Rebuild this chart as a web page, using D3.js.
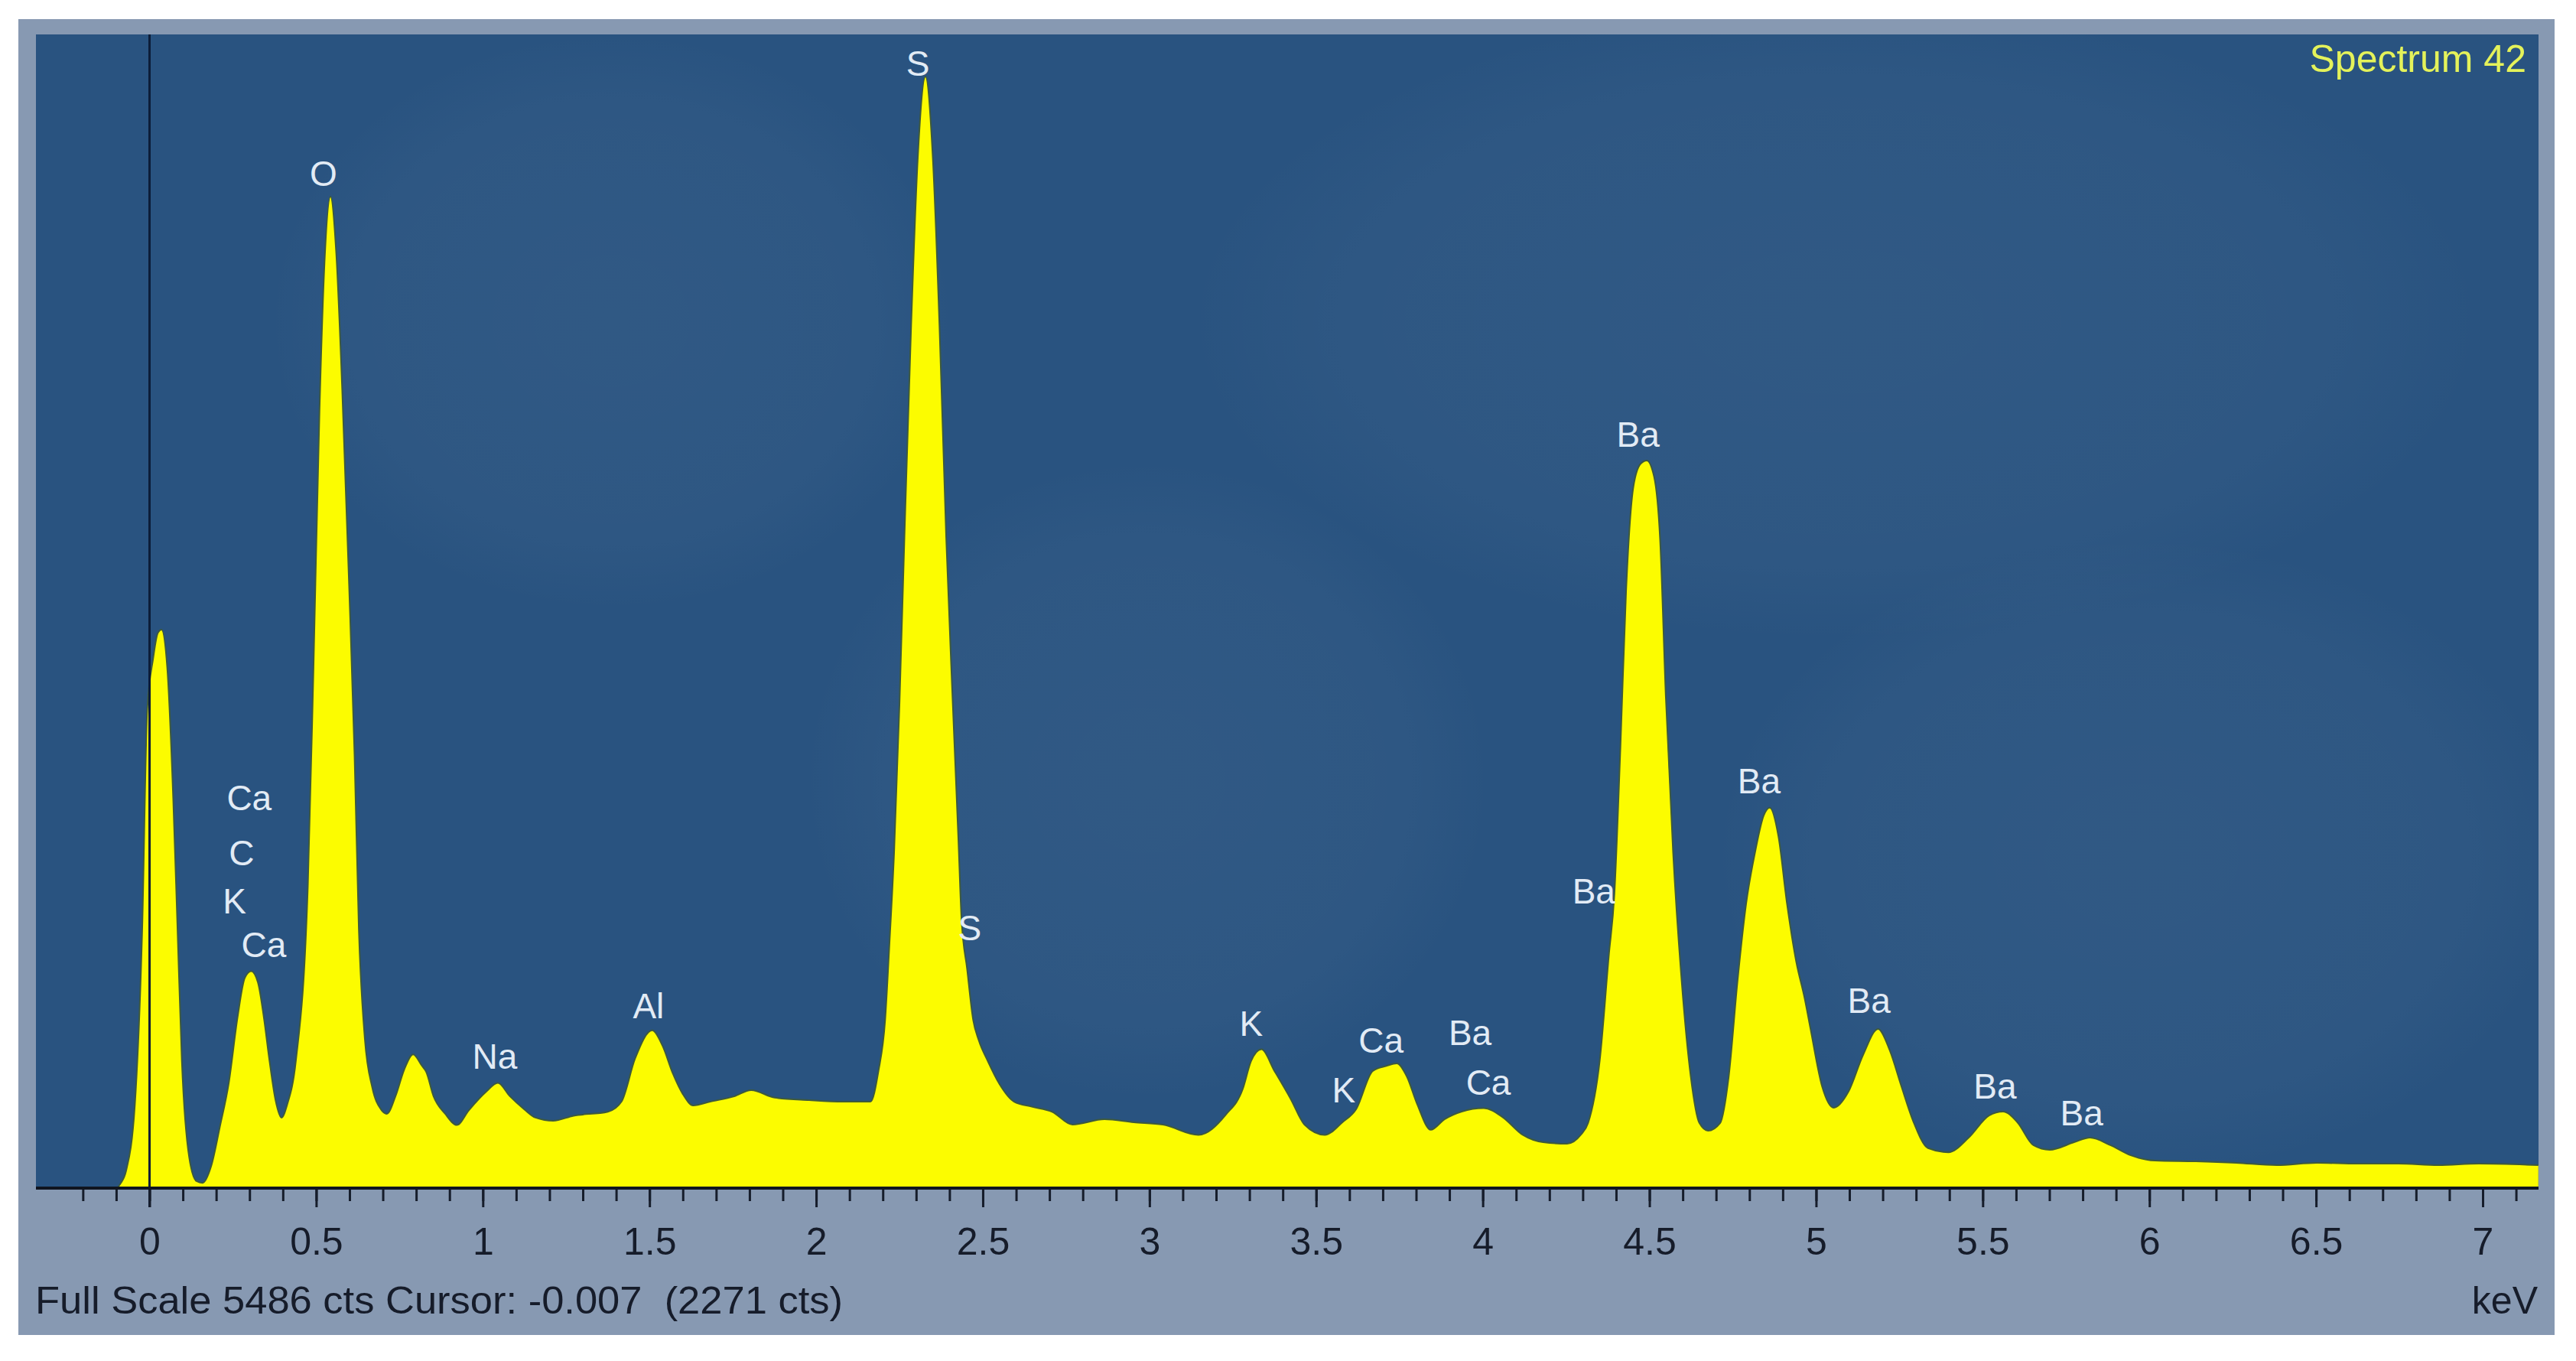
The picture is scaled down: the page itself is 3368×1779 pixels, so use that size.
<!DOCTYPE html>
<html>
<head>
<meta charset="utf-8">
<script src="https://cdn.jsdelivr.net/npm/d3@7"></script>
<style>
  html, body { margin: 0; padding: 0; background: #ffffff; }
  svg { display: block; }
  text { font-family: "Liberation Sans", Arial, sans-serif; }
</style>
</head>
<body>
<div id="chart"></div>
<script>
// EDS spectrum: energy in keV, counts
const energy = [
  -0.34, -0.10, -0.087, -0.070, -0.044, -0.022, -0.007, 0.011, 0.025, 0.036,
  0.053, 0.071, 0.084, 0.097, 0.119, 0.141, 0.159, 0.185, 0.211, 0.238,
  0.264, 0.286, 0.305, 0.325, 0.343, 0.360, 0.378, 0.396, 0.413, 0.439,
  0.475, 0.492, 0.510, 0.525, 0.543, 0.560, 0.578, 0.598, 0.615, 0.628,
  0.646, 0.668, 0.694, 0.712, 0.738, 0.764, 0.791, 0.817, 0.830, 0.852,
  0.887, 0.922, 0.958, 1.010, 1.045, 1.081, 1.124, 1.158, 1.211, 1.272,
  1.375, 1.416, 1.457, 1.508, 1.539, 1.570, 1.600, 1.631, 1.682, 1.754,
  1.805, 1.876, 1.979, 2.081, 2.163, 2.187, 2.207, 2.220, 2.234, 2.250,
  2.265, 2.285, 2.305, 2.328, 2.350, 2.370, 2.390, 2.410, 2.427, 2.436,
  2.453, 2.471, 2.488, 2.515, 2.550, 2.594, 2.647, 2.708, 2.769, 2.865,
  2.953, 3.040, 3.147, 3.229, 3.280, 3.305, 3.336, 3.375, 3.424, 3.465,
  3.526, 3.579, 3.620, 3.670, 3.711, 3.742, 3.772, 3.803, 3.844, 3.885,
  3.937, 4.003, 4.059, 4.120, 4.181, 4.253, 4.294, 4.316, 4.351, 4.378,
  4.395, 4.413, 4.430, 4.452, 4.474, 4.492, 4.514, 4.532, 4.549, 4.571,
  4.597, 4.624, 4.650, 4.676, 4.712, 4.738, 4.764, 4.790, 4.817, 4.843,
  4.861, 4.887, 4.913, 4.940, 4.966, 4.983, 5.018, 5.053, 5.097, 5.141,
  5.186, 5.221, 5.256, 5.291, 5.336, 5.397, 5.458, 5.519, 5.561, 5.604,
  5.652, 5.701, 5.774, 5.822, 5.883, 5.944, 6.017, 6.139, 6.260, 6.382,
  6.503, 6.624, 6.746, 6.867, 6.988, 7.167
];
const counts = [
  0, 0, 22, 84, 396, 1229, 2271, 2520, 2640, 2656,
  2478, 1854, 1229, 604, 146, 33, 25, 105, 291, 502,
  811, 1000, 1031, 979, 811, 604, 418, 335, 397, 604,
  1437, 2478, 3700, 4400, 4715, 4450, 3800, 2900, 2062, 1229,
  709, 480, 375, 353, 437, 563, 636, 582, 553, 437,
  353, 300, 370, 458, 500, 437, 375, 335, 320, 344,
  363, 411, 617, 750, 677, 545, 447, 393, 411, 436,
  466, 430, 418, 411, 411, 557, 800, 1164, 1600, 2300,
  3100, 4100, 4900, 5286, 4900, 4100, 3100, 2300, 1648, 1284,
  1041, 800, 702, 604, 495, 411, 387, 363, 302, 327,
  313, 302, 253, 349, 471, 604, 660, 557, 423, 302,
  253, 313, 375, 557, 581, 593, 531, 400, 277, 327,
  364, 380, 338, 253, 218, 211, 253, 309, 607, 1102,
  1400, 2095, 2838, 3336, 3445, 3460, 3383, 3085, 2343, 1597,
  979, 531, 309, 273, 309, 531, 979, 1350, 1597, 1772,
  1809, 1673, 1350, 1080, 900, 760, 484, 382, 458, 633,
  757, 655, 484, 320, 190, 170, 240, 345, 364, 313,
  204, 182, 218, 240, 204, 156, 131, 127, 120, 109,
  120, 116, 116, 109, 116, 109
];

// element labels: name, energy (keV) and height (counts) of the label centre
const peakNames  = ["O", "Ca", "C", "K", "Ca", "Na", "Al", "S", "S", "K",
                    "K", "Ca", "Ba", "Ca", "Ba", "Ba", "Ba", "Ba", "Ba", "Ba"];
const peakEnergy = [0.522, 0.299, 0.276, 0.255, 0.343, 1.036, 1.497, 2.305, 2.461, 3.305,
                    3.583, 3.695, 3.962, 4.017, 4.333, 4.466, 4.829, 5.159, 5.537, 5.797];
const peakHeight = [4824, 1855, 1593, 1364, 1157, 626, 866, 5348, 1237, 782,
                    466, 702, 739, 502, 1412, 3583, 1935, 891, 484, 357];

const majorTicks = [0, 0.5, 1, 1.5, 2, 2.5, 3, 3.5, 4, 4.5, 5, 5.5, 6, 6.5, 7];
const tickLabels = ["0", "0.5", "1", "1.5", "2", "2.5", "3", "3.5", "4", "4.5",
                    "5", "5.5", "6", "6.5", "7"];

const fullScale = 5486;
const spectrumName = "Spectrum 42";
const statusLine = "Full Scale 5486 cts Cursor: -0.007  (2271 cts)";
const unitLabel = "keV";

// layout
const W = 3368, H = 1779;
const frame = { x: 24, y: 25, w: 3316, h: 1720 };
const plot = { left: 47, top: 45, right: 3319, bottom: 1553 };

const svg = d3.select('#chart')
    .append('svg')
    .attr('width', W)
    .attr('height', H);

const defs = svg.append('defs');

defs.append('clipPath')
    .attr('id', 'plot-clip')
    .append('rect')
    .attr('x', plot.left)
    .attr('y', plot.top)
    .attr('width', plot.right - plot.left)
    .attr('height', plot.bottom - plot.top);

const ghost = defs.append('radialGradient').attr('id', 'ghost');
ghost.append('stop').attr('offset', '0%').attr('stop-color', '#ffffff').attr('stop-opacity', 0.035);
ghost.append('stop').attr('offset', '75%').attr('stop-color', '#ffffff').attr('stop-opacity', 0.025);
ghost.append('stop').attr('offset', '100%').attr('stop-color', '#ffffff').attr('stop-opacity', 0);

// outer frame and plot background
svg.append('rect')
    .attr('x', frame.x).attr('y', frame.y)
    .attr('width', frame.w).attr('height', frame.h)
    .attr('fill', '#8799b2');

svg.append('rect')
    .attr('x', plot.left).attr('y', plot.top)
    .attr('width', plot.right - plot.left)
    .attr('height', plot.bottom - plot.top)
    .attr('fill', '#295380');

// faint ghost of the electron image behind the spectrum
const bg = svg.append('g').attr('clip-path', 'url(#plot-clip)');
[[2400, 420, 850, 420], [1500, 1020, 450, 420], [2800, 1120, 560, 420], [800, 420, 450, 380]]
    .forEach(([cx, cy, rx, ry]) => {
        bg.append('ellipse')
            .attr('cx', cx).attr('cy', cy)
            .attr('rx', rx).attr('ry', ry)
            .attr('fill', 'url(#ghost)');
    });

// scales
const x = d3.scaleLinear().domain([0, 7]).range([195.5, 3246]);
const y = d3.scaleLinear().domain([0, fullScale]).range([plot.bottom, plot.top]);

const spectrum = energy.map((e, i) => ({ e: e, c: counts[i] }));

const area = d3.area()
    .x(d => x(d.e))
    .y0(y(0))
    .y1(d => y(d.c))
    .curve(d3.curveMonotoneX);

const line = d3.line()
    .x(d => x(d.e))
    .y(d => y(d.c))
    .curve(d3.curveMonotoneX);

const g = svg.append('g').attr('clip-path', 'url(#plot-clip)');

g.append('path')
    .datum(spectrum)
    .attr('d', area)
    .attr('fill', '#fcfc00');

g.append('path')
    .datum(spectrum)
    .attr('d', line)
    .attr('fill', 'none')
    .attr('stroke', '#3e5a3c')
    .attr('stroke-width', 2);

// element labels
const labels = peakNames.map((n, i) => ({ name: n, e: peakEnergy[i], c: peakHeight[i] }));

svg.append('g')
    .selectAll('text')
    .data(labels)
    .join('text')
    .attr('x', d => x(d.e))
    .attr('y', d => y(d.c))
    .attr('text-anchor', 'middle')
    .attr('dominant-baseline', 'central')
    .attr('font-size', '46px')
    .attr('fill', '#e2ebf5')
    .text(d => d.name);

// cursor line at 0 keV
svg.append('line')
    .attr('x1', x(0)).attr('x2', x(0))
    .attr('y1', plot.top).attr('y2', plot.bottom + 25)
    .attr('stroke', '#0c1d38')
    .attr('stroke-width', 3);

// minor ticks every 0.1 keV
const minorTicks = d3.range(-2, 72).map(i => i / 10);

const minorAxis = svg.append('g')
    .attr('transform', `translate(0,${plot.bottom})`)
    .call(d3.axisBottom(x).tickValues(minorTicks).tickSize(17).tickFormat(''));

const majorAxis = svg.append('g')
    .attr('transform', `translate(0,${plot.bottom})`)
    .call(d3.axisBottom(x)
        .tickValues(majorTicks)
        .tickSize(25)
        .tickPadding(26)
        .tickFormat((d, i) => tickLabels[i]));

[minorAxis, majorAxis].forEach(ax => {
    ax.select('.domain').remove();
    ax.selectAll('.tick line')
        .attr('stroke', '#161d2b')
        .attr('stroke-width', 3);
});

majorAxis.selectAll('.tick text')
    .attr('font-size', '50px')
    .attr('font-family', '"Liberation Sans", Arial, sans-serif')
    .attr('fill', '#161c2a');

// axis base line
svg.append('line')
    .attr('x1', plot.left).attr('x2', plot.right)
    .attr('y1', plot.bottom).attr('y2', plot.bottom)
    .attr('stroke', '#10151f')
    .attr('stroke-width', 4);

// texts
svg.append('text')
    .attr('x', 3303)
    .attr('y', 94)
    .attr('text-anchor', 'end')
    .attr('font-size', '50px')
    .attr('fill', '#e4f25a')
    .text(spectrumName);

svg.append('text')
    .attr('x', 46)
    .attr('y', 1717)
    .attr('font-size', '50px')
    .attr('fill', '#161c2a')
    .attr('textLength', 1056)
    .attr('lengthAdjust', 'spacingAndGlyphs')
    .style('white-space', 'pre')
    .text(statusLine);

svg.append('text')
    .attr('x', 3318)
    .attr('y', 1717)
    .attr('text-anchor', 'end')
    .attr('font-size', '50px')
    .attr('fill', '#161c2a')
    .text(unitLabel);
</script>
</body>
</html>
